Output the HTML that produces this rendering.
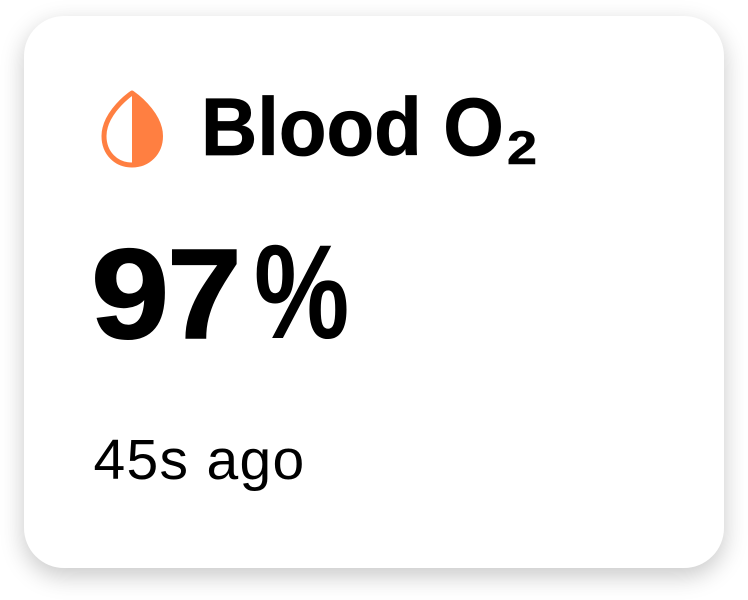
<!DOCTYPE html>
<html lang="en">
<head>
<meta charset="utf-8">
<title>Blood O2</title>
<style>
html,body{margin:0;padding:0;width:748px;height:600px;background:#fff;overflow:hidden;font-family:"Liberation Sans","DejaVu Sans",sans-serif;color:#000}
#card{position:absolute;left:24px;top:16px;width:700px;height:552px;background:#fff;border-radius:40px;box-shadow:0 8px 24px rgba(0,0,0,.22)}
.t{position:absolute;white-space:nowrap;line-height:1;transform-origin:left center}
#title{left:201px;top:87px;font-size:82px;font-weight:700;transform:scaleX(.95);-webkit-text-stroke:.8px #000}
#sub{left:506.500px;top:124px;font-size:47px;font-weight:700;transform:scaleX(1.15);-webkit-text-stroke:.6px #000}
#value span{position:absolute;font-size:128px;top:230.500px;font-weight:700;line-height:1;transform-origin:left center;-webkit-text-stroke:1.500px #000}
#v9{left:90.500px;transform:scaleX(1.1)}
#v7{left:167px;transform:scaleX(1.05)}
#value #vp{left:254px;top:226px;font-size:134px;transform:scaleX(.8);-webkit-text-stroke:0}
#ago{left:93.500px;top:432px;font-size:57px;font-weight:400;letter-spacing:1.300px}
#drop{position:absolute;left:100px;top:90px}
</style>
</head>
<body>
<div id="card"></div>
<svg id="drop" width="64" height="80" viewBox="100 90 64 80">
<path d="M132 93C122 100 104 117 104 136C104 153 116 165 132 165C148 165 160.500 153 160.500 136C160.500 117 142 100 132 93Z" fill="none" stroke="#FF7F41" stroke-width="5" stroke-linejoin="round"/>
<path d="M132 93C142 100 160.500 117 160.500 136C160.500 153 148 165 132 165Z" fill="#FF7F41"/>
</svg>
<div id="title" class="t">Blood O</div>
<div id="sub" class="t">2</div>
<div id="value"><span id="v9">9</span><span id="v7">7</span><span id="vp">%</span></div>
<div id="ago" class="t">45s ago</div>
</body>
</html>
